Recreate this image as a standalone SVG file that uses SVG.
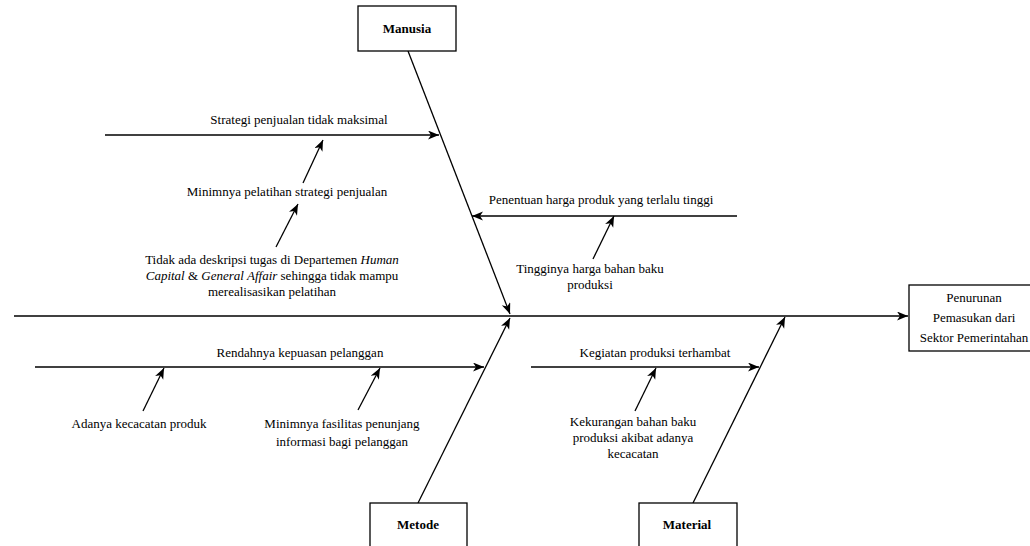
<svg xmlns="http://www.w3.org/2000/svg" width="1030" height="546" viewBox="0 0 1030 546">
<style>
text{font-family:"Liberation Serif","Times New Roman",serif;font-size:13px;fill:#000;text-anchor:middle}
.b{font-weight:bold}
.i{font-style:italic}
.box{fill:#fff;stroke:#000;stroke-width:1.3}
.ln{stroke:#000;stroke-width:1.3;fill:none;marker-end:url(#ah)}
</style>
<defs>
<marker id="ah" markerUnits="userSpaceOnUse" markerWidth="12" markerHeight="10" refX="11" refY="4.5" orient="auto">
<path d="M0,0 L11,4.5 L0,9 L3,4.5 z" fill="#000"/>
</marker>
</defs>
<rect width="1030" height="546" fill="#fff"/>
<g id="connectors">
<line class="ln" x1="14" y1="316" x2="908" y2="316"/>
<line class="ln" x1="408" y1="51" x2="510" y2="314"/>
<line class="ln" x1="418" y1="503" x2="510" y2="318"/>
<line class="ln" x1="693" y1="503" x2="785" y2="317"/>
<line class="ln" x1="105" y1="135" x2="439" y2="135"/>
<line class="ln" x1="303" y1="183" x2="323" y2="140"/>
<line class="ln" x1="276" y1="247" x2="298" y2="204"/>
<line class="ln" x1="737" y1="216" x2="472" y2="216"/>
<line class="ln" x1="593" y1="259" x2="614" y2="216"/>
<line class="ln" x1="35" y1="367" x2="484" y2="367"/>
<line class="ln" x1="143" y1="411" x2="164" y2="368"/>
<line class="ln" x1="358" y1="410" x2="380" y2="368"/>
<line class="ln" x1="531" y1="367" x2="759" y2="367"/>
<line class="ln" x1="635" y1="411" x2="656" y2="368"/>
</g>
<g id="manusia">
<rect class="box" x="358" y="6" width="98" height="45"/>
<text class="b" x="407" y="33">Manusia</text>
</g>
<g id="metode">
<rect class="box" x="370" y="503" width="97" height="50"/>
<text class="b" x="418" y="529">Metode</text>
</g>
<g id="material">
<rect class="box" x="639" y="503" width="98" height="50"/>
<text class="b" x="687" y="529">Material</text>
</g>
<g id="effect">
<rect class="box" x="909" y="285" width="132" height="66"/>
<text x="974" y="302">Penurunan</text>
<text x="974" y="322">Pemasukan dari</text>
<text x="974" y="342">Sektor Pemerintahan</text>
</g>
<g id="strategi">
<text x="299" y="124">Strategi penjualan tidak maksimal</text>
</g>
<g id="pelatihan">
<text x="287" y="196">Minimnya pelatihan strategi penjualan</text>
</g>
<g id="deskripsi">
<text x="272" y="264">Tidak ada deskripsi tugas di Departemen <tspan class="i">Human</tspan></text>
<text x="272" y="280"><tspan class="i">Capital</tspan> &amp; <tspan class="i">General Affair</tspan> sehingga tidak mampu</text>
<text x="272" y="296">merealisasikan pelatihan</text>
</g>
<g id="penentuan">
<text x="601" y="204">Penentuan harga produk yang terlalu tinggi</text>
</g>
<g id="tingginya">
<text x="590" y="273">Tingginya harga bahan baku</text>
<text x="590" y="289">produksi</text>
</g>
<g id="rendahnya">
<text x="300" y="357">Rendahnya kepuasan pelanggan</text>
</g>
<g id="kecacatan">
<text x="139" y="428">Adanya kecacatan produk</text>
</g>
<g id="fasilitas">
<text x="342" y="428">Minimnya fasilitas penunjang</text>
<text x="342" y="446">informasi bagi pelanggan</text>
</g>
<g id="kegiatan">
<text x="655" y="357">Kegiatan produksi terhambat</text>
</g>
<g id="kekurangan">
<text x="633" y="426">Kekurangan bahan baku</text>
<text x="633" y="442">produksi akibat adanya</text>
<text x="633" y="458">kecacatan</text>
</g>
</svg>
